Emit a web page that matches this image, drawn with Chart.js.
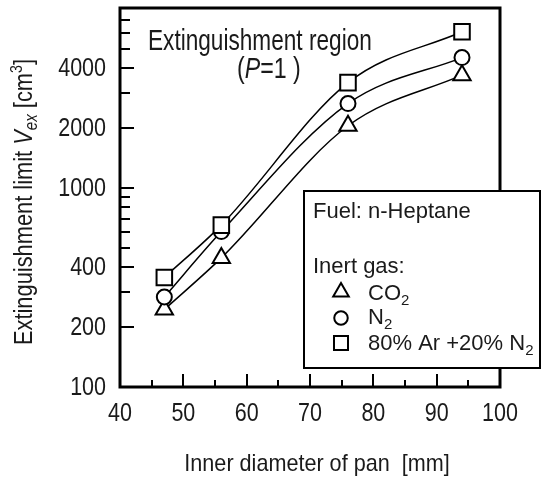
<!DOCTYPE html>
<html><head><meta charset="utf-8">
<script src="https://cdn.jsdelivr.net/npm/chart.js@4/dist/chart.umd.min.js"></script>
<style>html,body{margin:0;padding:0;background:#fff;}#wrap{width:541px;height:479px;}</style>
</head><body><div id="wrap"><canvas id="c" width="541" height="479"></canvas></div>
<script>
// ---- data ----
const diameters = [47, 56, 76, 94];
const co2Values = [245, 445, 2050, 3680];
const n2Values = [283, 603, 2650, 4510];
const arN2Values = [355, 650, 3375, 6080];
const yTickValues = [100, 200, 400, 1000, 2000, 4000];
const yMinorTicks = [300, 500, 600, 700, 800, 900, 3000, 5000, 6000, 7000];
const xTickValues = [40, 50, 60, 70, 80, 90, 100];
const xMinorTicks = [45, 55, 65, 75, 85, 95];
const seriesNames = [['CO', '2'], ['N', '2'], ['80% Ar +20% N', '2']];
const fuelText = 'Fuel: n-Heptane';
const inertText = 'Inert gas:';
const xTitle = 'Inner diameter of pan  [mm]';

const SANS = "'Liberation Sans', Arial, sans-serif";
const TXT = '#1a1a1a';

function pts(vals) { return diameters.map((d, i) => ({ x: d, y: vals[i] })); }
function ds(label, vals, style, r) {
  return {
    label, data: pts(vals), borderColor: '#000', borderWidth: 1.5,
    pointStyle: style, pointRadius: r, pointBorderWidth: 2,
    pointBorderColor: '#000', pointBackgroundColor: '#fff',
    cubicInterpolationMode: 'monotone', fill: false
  };
}
const F = (size, it) => (it ? 'italic ' : '') + size + 'px ' + SANS;

function rich(ctx, parts, x, y, sx, align) {
  let total = 0;
  parts.forEach(p => { ctx.font = p[1]; total += ctx.measureText(p[0]).width; });
  let x0 = align === 'center' ? -total / 2 : align === 'right' ? -total : 0;
  ctx.save();
  ctx.translate(x, y);
  ctx.scale(sx, 1);
  ctx.textAlign = 'left';
  ctx.textBaseline = 'alphabetic';
  parts.forEach(p => { ctx.font = p[1]; ctx.fillText(p[0], x0, p[2] || 0); x0 += ctx.measureText(p[0]).width; });
  ctx.restore();
}

const decor = {
  id: 'decor',
  afterDraw(chart) {
    const ctx = chart.ctx, a = chart.chartArea;
    const xs = chart.scales.x, ys = chart.scales.y;
    ctx.save();
    ctx.strokeStyle = '#000';
    ctx.lineWidth = 2;
    const tick = (x1, y1, x2, y2) => { ctx.beginPath(); ctx.moveTo(x1, y1); ctx.lineTo(x2, y2); ctx.stroke(); };
    yTickValues.forEach(v => { const p = Math.round(ys.getPixelForValue(v)); tick(a.left, p, a.left + 14, p); });
    yMinorTicks.forEach(v => { const p = Math.round(ys.getPixelForValue(v)); tick(a.left, p, a.left + 10, p); });
    xTickValues.forEach(v => { const p = Math.round(xs.getPixelForValue(v)); tick(p, a.bottom, p, a.bottom - 13); });
    xMinorTicks.forEach(v => { const p = Math.round(xs.getPixelForValue(v)); tick(p, a.bottom, p, a.bottom - 7); });
    ctx.lineWidth = 3;
    ctx.strokeRect(a.left, a.top, a.right - a.left, a.bottom - a.top);

    ctx.fillStyle = TXT;
    ys.ticks.forEach(t => { rich(ctx, [[String(t.value), F(25)]], 106, ys.getPixelForValue(t.value) + 8, 0.86, 'right'); });
    xs.ticks.forEach(t => { rich(ctx, [[String(t.value), F(25)]], xs.getPixelForValue(t.value), 421, 0.86, 'center'); });
    rich(ctx, [[xTitle, F(24)]], 317, 471, 0.9, 'center');
    rich(ctx, [['Extinguishment region', F(29)]], 148, 50, 0.78, 'left');
    rich(ctx, [['(', F(29)], ['P', F(29, true)], ['=1 )', F(29)]], 237, 78, 0.8, 'left');
    ctx.save();
    ctx.translate(32, 202);
    ctx.rotate(-Math.PI / 2);
    rich(ctx, [['Extinguishment limit ', F(26)], ['V', F(26, true)], ['ex', F(18, true), 5],
               [' [cm', F(26)], ['3', F(17), -10], [']', F(26)]], 0, 0, 0.84, 'center');
    ctx.restore();

    ctx.fillStyle = '#fff';
    ctx.fillRect(304, 191, 236, 177);
    ctx.lineWidth = 2;
    ctx.strokeRect(304, 191, 236, 177);
    ctx.fillStyle = TXT;
    ctx.font = F(22);
    ctx.textAlign = 'left';
    ctx.textBaseline = 'alphabetic';
    ctx.fillText(fuelText, 313, 218);
    ctx.fillText(inertText, 313, 273);
    const order = [2, 1, 0];
    const markerY = [292, 318, 343];
    const textY = [300, 324, 350];
    order.forEach((di, k) => {
      const d = chart.data.datasets[di];
      ctx.lineWidth = 2;
      ctx.strokeStyle = '#000';
      ctx.fillStyle = '#fff';
      Chart.helpers.drawPoint(ctx, { pointStyle: d.pointStyle, radius: d.pointRadius * 0.9, borderWidth: 2 }, 341, markerY[k]);
      ctx.fillStyle = TXT;
      const nm = seriesNames[k];
      ctx.font = F(22);
      ctx.fillText(nm[0], 368, textY[k]);
      const w = ctx.measureText(nm[0]).width;
      ctx.font = F(15);
      ctx.fillText(nm[1], 368 + w, textY[k] + 5);
    });
    ctx.restore();
  }
};

new Chart(document.getElementById('c'), {
  type: 'line',
  data: {
    datasets: [
      ds('80% Ar +20% N2', arN2Values, 'rect', 11),
      ds('N2', n2Values, 'circle', 7.5),
      ds('CO2', co2Values, 'triangle', 10)
    ]
  },
  options: {
    responsive: false,
    animation: false,
    devicePixelRatio: 1,
    layout: { autoPadding: false, padding: { top: 8, right: 41, left: 0, bottom: 0 } },
    plugins: { legend: { display: false }, tooltip: { enabled: false } },
    scales: {
      x: {
        type: 'linear', min: 40, max: 100,
        afterBuildTicks: s => { s.ticks = xTickValues.map(v => ({ value: v })); },
        afterFit: s => { s.height = 92; s.paddingLeft = 0; s.paddingRight = 0; },
        grid: { display: false, drawTicks: false },
        border: { display: false },
        ticks: { display: false }
      },
      y: {
        type: 'logarithmic', min: 100, max: 8000,
        afterBuildTicks: s => { s.ticks = yTickValues.map(v => ({ value: v })); },
        afterFit: s => { s.width = 120; s.paddingTop = 0; s.paddingBottom = 0; },
        grid: { display: false, drawTicks: false },
        border: { display: false },
        ticks: { display: false }
      }
    }
  },
  plugins: [decor]
});
</script></body></html>
